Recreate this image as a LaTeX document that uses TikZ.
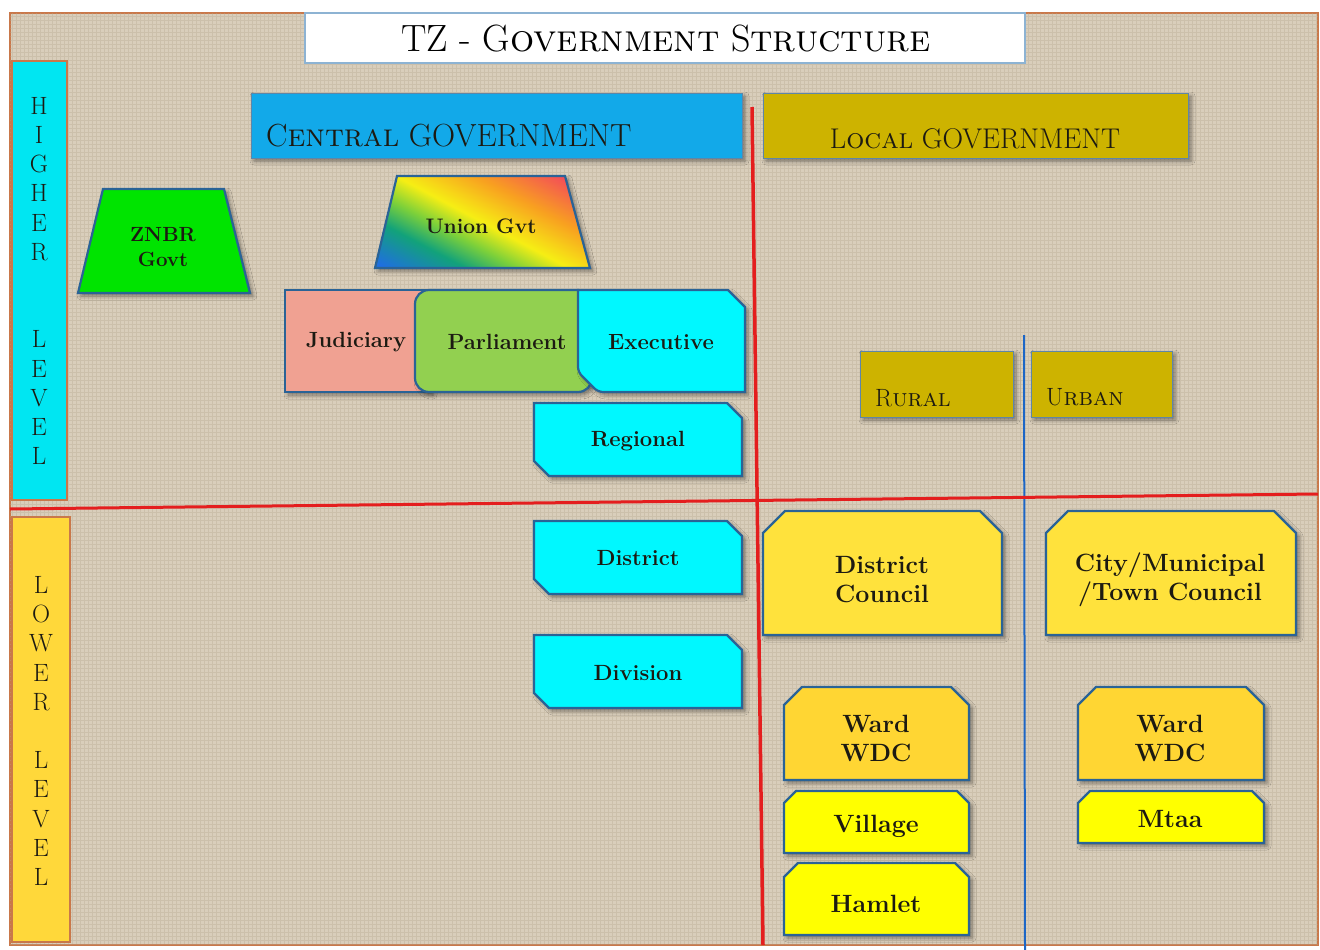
\documentclass[tikz,border=0pt]{standalone}
\usetikzlibrary{shadows.blur}
\definecolor{linen}{HTML}{D9CEBB}
\definecolor{weave}{HTML}{B5A890}
\definecolor{framec}{HTML}{C9784A}
\definecolor{titleb}{HTML}{8DB3D3}
\definecolor{hicyan}{HTML}{00E6F2}
\definecolor{loyel}{HTML}{FFD83A}
\definecolor{centralc}{HTML}{12A9E9}
\definecolor{localc}{HTML}{CDB300}
\definecolor{hdredge}{HTML}{5E86A8}
\definecolor{znbrc}{HTML}{00E400}
\definecolor{judc}{HTML}{F0A192}
\definecolor{parc}{HTML}{92D050}
\definecolor{cyanc}{HTML}{00F8FF}
\definecolor{dcc}{HTML}{FFE23C}
\definecolor{wardc}{HTML}{FFD633}
\definecolor{vilc}{HTML}{FFFF00}
\definecolor{edgec}{HTML}{2A6396}
\definecolor{txtc}{HTML}{1C1A12}
\definecolor{redl}{HTML}{E41E1E}
\definecolor{bluel}{HTML}{1C66C6}
\definecolor{rb1}{HTML}{1F6FE0}
\definecolor{rb2}{HTML}{12A27A}
\definecolor{rb25}{HTML}{7CD03A}
\definecolor{rb3}{HTML}{F6EE14}
\definecolor{rb4}{HTML}{F8A020}
\definecolor{rb5}{HTML}{F23C64}
\pgfdeclarehorizontalshading{rainbowsh}{100bp}{color(0bp)=(rb1); color(18bp)=(rb1); color(32bp)=(rb2); color(41bp)=(rb25); color(50bp)=(rb3); color(64bp)=(rb4); color(82bp)=(rb5); color(100bp)=(rb5)}
\newcommand{\neswbox}[6]{\draw[#1] (#2,#3) -- ({#4-#6},#3) -- (#4,{#3+#6}) -- (#4,#5) -- ({#2+#6},#5) -- (#2,{#5-#6}) -- cycle;}
\newcommand{\topbox}[6]{\draw[#1] (#2,{#3+#6}) -- ({#2+#6},#3) -- ({#4-#6},#3) -- (#4,{#3+#6}) -- (#4,#5) -- (#2,#5) -- cycle;}
\begin{document}
\begin{tikzpicture}[x=1pt,y=-1pt,
  box/.style={draw=edgec, line width=2.2pt, blur shadow={shadow xshift=3pt, shadow yshift=-3pt, shadow blur radius=4pt, shadow opacity=45}},
  hdr/.style={draw=hdredge, line width=1pt, blur shadow={shadow xshift=3pt, shadow yshift=-3pt, shadow blur radius=4pt, shadow opacity=45}},
  lbl/.style={font=\bfseries\fontsize{22}{26}\selectfont, text=txtc, align=center, inner sep=0pt},
  lblb/.style={font=\bfseries\fontsize{25}{29}\selectfont, text=txtc, align=center, inner sep=0pt},
  hdrtxt/.style={font=\fontsize{32}{36}\selectfont, text=txtc, inner sep=0pt},
  vtxt/.style={font=\fontsize{25}{29.2}\selectfont, text=txtc, align=center, inner sep=0pt}]
\useasboundingbox (0,0) rectangle (1320,950);
\fill[white] (0,0) rectangle (1320,950);
% frame and linen
\draw[fill=linen, draw=framec, line width=2pt] (10,13) rectangle (1318,945);
\draw[weave, opacity=0.35, line width=0.6pt, step=4pt] (10,13) grid (1318,945);
% title
\draw[fill=white, draw=titleb, line width=2pt] (305,13) rectangle (1025,63);
\node[font=\fontsize{38}{42}\selectfont, text=black, inner sep=0pt] (title) at (666,39) {TZ - G\textsc{overnment} S\textsc{tructure}};
% level bars
\draw[fill=hicyan, draw=framec, line width=2pt] (12,61) rectangle (67,500);
\draw[fill=loyel, draw=framec, line width=2pt] (12,517) rectangle (70,942);
\node[vtxt] (higher) at (39,281) {H\\I\\G\\H\\E\\R\\[58.4pt]L\\E\\V\\E\\L};
\node[vtxt] (lower) at (41,731) {L\\O\\W\\E\\R\\[29.2pt]L\\E\\V\\E\\L};
% headers
\draw[hdr, fill=centralc] (251,93) rectangle (742,158);
\node[hdrtxt, anchor=west] (central) at (266,136) {C\textsc{entral} GOVERNMENT};
\draw[hdr, fill=localc] (763,93) rectangle (1188,158);
\node[hdrtxt, font=\fontsize{28.5}{32}\selectfont] (local) at (975,139) {L\textsc{ocal} GOVERNMENT};
\draw[hdr, fill=localc] (860,351) rectangle (1013,417);
\node[hdrtxt, font=\fontsize{25}{28}\selectfont, anchor=west] (rural) at (875,398) {R\textsc{ural}};
\draw[hdr, fill=localc] (1031,351) rectangle (1172,417);
\node[hdrtxt, font=\fontsize{25}{28}\selectfont, anchor=west] (urban) at (1046,397) {U\textsc{rban}};
% ZNBR and Union
\draw[box, fill=znbrc] (103,189) -- (224,189) -- (250,293) -- (78,293) -- cycle;
\node[lbl, font=\bfseries\fontsize{20.5}{25}\selectfont] (znbr) at (163,247) {ZNBR\\Govt};
\draw[box, shade, shading=rainbowsh, shading angle=62] (397,176) -- (565,176) -- (590,268) -- (375,268) -- cycle;
\node[lbl, font=\bfseries\fontsize{21}{25}\selectfont] (union) at (481,226) {Union Gvt};
% branches
\draw[box, fill=judc] (285,290) rectangle (430,392);
\draw[box, fill=parc, rounded corners=14pt] (415,290) rectangle (592,392);
\draw[box, fill=cyanc] (578,290) -- (728,290) -- (745,307) -- (745,392) [rounded corners=5pt] -- (598,392) -- (578,372) [sharp corners] -- cycle;
\node[lbl] (judiciary) at (356,342) {Judiciary};
\node[lbl] (parliament) at (507,342) {Parliament};
\node[lbl] (executive) at (661,342) {Executive};
% central hierarchy
\neswbox{box, fill=cyanc}{534}{403}{742}{476}{15}
\node[lbl] (regional) at (638,441) {Regional};
\neswbox{box, fill=cyanc}{534}{521}{742}{594}{15}
\node[lbl] (district) at (638,558) {District};
\neswbox{box, fill=cyanc}{534}{635}{742}{708}{15}
\node[lbl] (division) at (638,673) {Division};
% local hierarchy
\topbox{box, fill=dcc}{763}{511}{1002}{635}{22}
\node[lblb] (dcouncil) at (882,580) {District\\Council};
\topbox{box, fill=dcc}{1046}{511}{1296}{635}{22}
\node[lblb] (ccouncil) at (1170,580) {City/Municipal\\/Town Council};
\topbox{box, fill=wardc}{784}{687}{969}{780}{18}
\node[lblb] (wardr) at (876,738) {Ward\\WDC};
\topbox{box, fill=vilc}{784}{791}{969}{853}{12}
\node[lblb] (village) at (876,826) {Village};
\topbox{box, fill=vilc}{784}{863}{969}{935}{14}
\node[lblb] (hamlet) at (876,904) {Hamlet};
\topbox{box, fill=wardc}{1078}{687}{1264}{780}{18}
\node[lblb] (wardu) at (1170,738) {Ward\\WDC};
\topbox{box, fill=vilc}{1078}{791}{1264}{843}{12}
\node[lblb] (mtaa) at (1170,819) {Mtaa};
% dividing lines
\coordinate (bt) at (1024,335);
\coordinate (bb) at (1025,950);
\draw[bluel, line width=2pt] (bt) -- (bb);
\coordinate (hl) at (10,509);
\coordinate (hr) at (1318,494);
\draw[redl, line width=3pt] (hl) -- (hr);
\coordinate (vt) at (752,107);
\coordinate (vb) at (763,945);
\draw[redl, line width=3.5pt] (vt) -- (vb);
\end{tikzpicture}
\end{document}
